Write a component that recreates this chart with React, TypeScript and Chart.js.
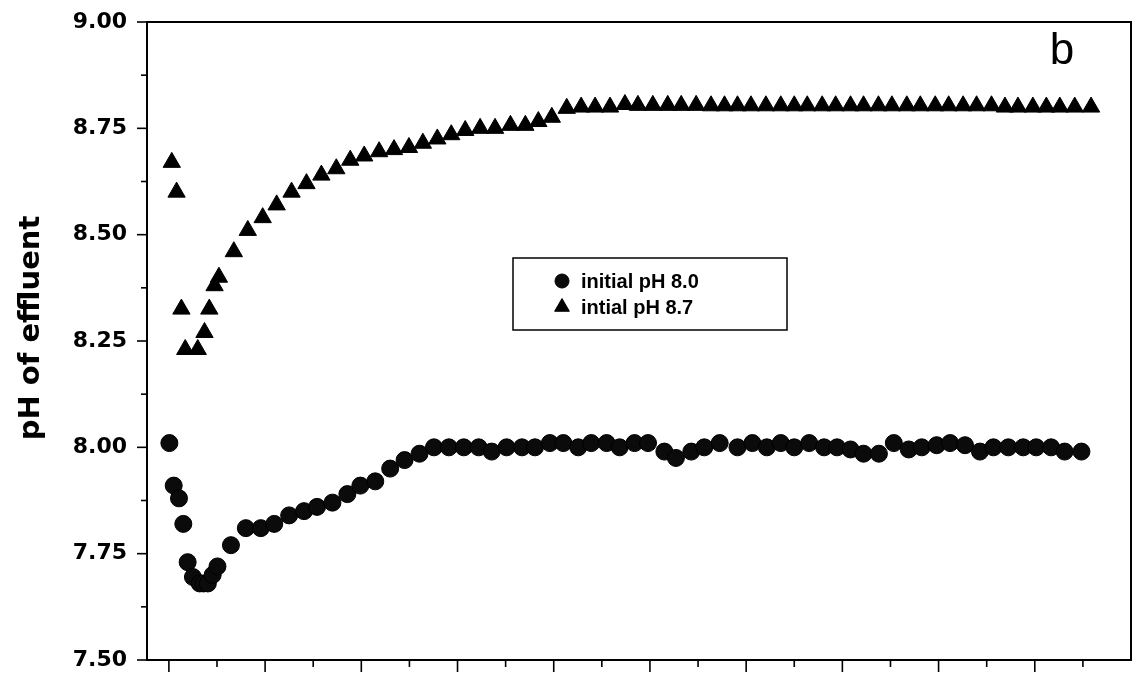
import React, { useEffect, useRef } from 'react';
import { Chart, registerables } from 'chart.js';
import { drawPoint } from 'chart.js/helpers';

Chart.register(...registerables);

// Elapsed time (axis units, one minor tick = 1) and effluent pH for each run
const run80Time = [
  0.01, 0.1, 0.21, 0.3, 0.39, 0.5, 0.64, 0.72, 0.81, 0.91, 1.01, 1.29, 1.6, 1.91, 2.19,
  2.5, 2.81, 3.08, 3.4, 3.71, 3.98, 4.29, 4.6, 4.9, 5.21, 5.51, 5.82, 6.13, 6.44, 6.71,
  7.02, 7.34, 7.61, 7.92, 8.2, 8.51, 8.78, 9.1, 9.37, 9.68, 9.96, 10.3, 10.54, 10.86,
  11.13, 11.45, 11.82, 12.13, 12.43, 12.72, 13.0, 13.31, 13.62, 13.89, 14.17, 14.44,
  14.76, 15.07, 15.38, 15.65, 15.96, 16.24, 16.55, 16.86, 17.14, 17.45, 17.76, 18.03,
  18.34, 18.62, 18.97,
];
const run80Ph = [
  8.01, 7.91, 7.88, 7.82, 7.73, 7.695, 7.68, 7.68, 7.68, 7.7, 7.72, 7.77, 7.81, 7.81, 7.82,
  7.84, 7.85, 7.86, 7.87, 7.89, 7.91, 7.92, 7.95, 7.97, 7.985, 8.0, 8.0, 8.0, 8.0, 7.99,
  8.0, 8.0, 8.0, 8.01, 8.01, 8.0, 8.01, 8.01, 8.0, 8.01, 8.01, 7.99, 7.975, 7.99,
  8.0, 8.01, 8.0, 8.01, 8.0, 8.01, 8.0, 8.01, 8.0, 8.0, 7.995, 7.985,
  7.985, 8.01, 7.995, 8.0, 8.005, 8.01, 8.005, 7.99, 8.0, 8.0, 8.0, 8.0,
  8.0, 7.99, 7.99,
];

const run87Time = [
  0.06, 0.16, 0.26, 0.34, 0.6, 0.74, 0.84, 0.95, 1.04, 1.35, 1.64, 1.95, 2.24, 2.55,
  2.86, 3.17, 3.48, 3.77, 4.06, 4.37, 4.68, 4.99, 5.28, 5.58, 5.87, 6.16, 6.47, 6.78,
  7.1, 7.41, 7.68, 7.96, 8.27, 8.57, 8.86, 9.17, 9.48, 9.75, 10.06, 10.37, 10.65, 10.96,
  11.27, 11.55, 11.82, 12.1, 12.41, 12.72, 13.0, 13.27, 13.58, 13.86, 14.17, 14.44,
  14.75, 15.03, 15.34, 15.62, 15.93, 16.21, 16.51, 16.79, 17.1, 17.38, 17.65, 17.96,
  18.24, 18.52, 18.83, 19.17,
];
const run87Ph = [
  8.67, 8.6, 8.325, 8.23, 8.23, 8.27, 8.325, 8.38, 8.4, 8.46, 8.51, 8.54, 8.57, 8.6,
  8.62, 8.64, 8.655, 8.675, 8.685, 8.695, 8.7, 8.705, 8.715, 8.725, 8.735, 8.745, 8.75, 8.75,
  8.757, 8.757, 8.766, 8.776, 8.797, 8.8, 8.8, 8.8, 8.806, 8.804, 8.804, 8.804, 8.804, 8.804,
  8.803, 8.803, 8.803, 8.803, 8.803, 8.803, 8.803, 8.803, 8.803, 8.803, 8.803, 8.803,
  8.803, 8.803, 8.803, 8.803, 8.803, 8.803, 8.803, 8.803, 8.803, 8.8, 8.8, 8.8,
  8.8, 8.8, 8.8, 8.8,
];

const seriesLabels = ['initial pH 8.0', 'intial pH 8.7'];
const yTickValues = [7.5, 7.75, 8.0, 8.25, 8.5, 8.75, 9.0];
const yMinorTickValues = [7.625, 7.875, 8.125, 8.375, 8.625, 8.875];
const xTickValues = [0, 2, 4, 6, 8, 10, 12, 14, 16, 18];
const xMinorTickValues = [1, 3, 5, 7, 9, 11, 13, 15, 17, 19];
const xMin = -0.455;
const xMax = 20;
const yMin = 7.5;
const yMax = 9.0;
const yTitle = 'pH of effluent';
const panelLetter = 'b';

const SANS = '"Liberation Sans", Arial, Helvetica, sans-serif';
const WIDE = '"DejaVu Sans", Verdana, sans-serif';

const framePlugin = {
  id: 'frameAndLegend',
  afterDraw(chart: any) {
    const { ctx, chartArea: a, scales } = chart;
    const xs = scales.x;
    const ys = scales.y;
    ctx.save();
    ctx.strokeStyle = '#000';
    ctx.lineCap = 'butt';

    // plot frame
    ctx.lineWidth = 2;
    ctx.strokeRect(a.left, a.top, a.right - a.left, a.bottom - a.top);

    // outward tick marks
    ctx.lineWidth = 1.6;
    const tick = (x1: number, y1: number, x2: number, y2: number) => {
      ctx.beginPath();
      ctx.moveTo(x1, y1);
      ctx.lineTo(x2, y2);
      ctx.stroke();
    };
    yTickValues.forEach((v) => {
      const p = ys.getPixelForValue(v);
      tick(a.left - 10, p, a.left, p);
    });
    yMinorTickValues.forEach((v) => {
      const p = ys.getPixelForValue(v);
      tick(a.left - 6, p, a.left, p);
    });
    xTickValues.forEach((v) => {
      const p = xs.getPixelForValue(v);
      tick(p, a.bottom, p, a.bottom + 12);
    });
    xMinorTickValues.forEach((v) => {
      const p = xs.getPixelForValue(v);
      tick(p, a.bottom, p, a.bottom + 7);
    });

    // y-axis title
    ctx.save();
    ctx.translate(31, 328);
    ctx.rotate(-Math.PI / 2);
    ctx.fillStyle = '#000';
    ctx.font = `bold 29px ${WIDE}`;
    ctx.textAlign = 'center';
    ctx.textBaseline = 'middle';
    ctx.fillText(yTitle, 0, 0);
    ctx.restore();

    // legend box
    const lx = 513;
    const ly = 258;
    const lw = 274;
    const lh = 72;
    ctx.lineWidth = 1.5;
    ctx.strokeRect(lx, ly, lw, lh);
    const rows = [281, 307];
    chart.data.datasets.forEach((ds: any, i: number) => {
      const cy = rows[i];
      ctx.fillStyle = ds.backgroundColor;
      ctx.strokeStyle = ds.borderColor;
      ctx.lineWidth = 1;
      drawPoint(ctx, {
        pointStyle: ds.pointStyle,
        radius: ds.pointStyle === 'triangle' ? 8.5 : 7,
        rotation: 0,
        borderWidth: 1,
      }, 562, cy);
      ctx.fillStyle = '#000';
      ctx.font = `bold 20px ${SANS}`;
      ctx.textAlign = 'left';
      ctx.textBaseline = 'middle';
      ctx.fillText(ds.label, 581, cy + 1);
    });

    // panel letter
    ctx.fillStyle = '#000';
    ctx.font = `44px ${SANS}`;
    ctx.textAlign = 'center';
    ctx.textBaseline = 'middle';
    ctx.fillText(panelLetter, 1062, 52);
    ctx.restore();
  },
};

export default function App() {
  const canvasRef = useRef<HTMLCanvasElement | null>(null);

  useEffect(() => {
    const canvas = canvasRef.current;
    if (!canvas) return;
    const chart = new Chart(canvas, {
      type: 'scatter',
      data: {
        datasets: [
          {
            label: seriesLabels[0],
            data: run80Time.map((t, i) => ({ x: t, y: run80Ph[i] })),
            pointStyle: 'circle',
            pointRadius: 8.5,
            backgroundColor: '#0b0b0b',
            borderColor: '#000',
            borderWidth: 1,
          },
          {
            label: seriesLabels[1],
            data: run87Time.map((t, i) => ({ x: t, y: run87Ph[i] })),
            pointStyle: 'triangle',
            pointRadius: 10,
            backgroundColor: '#000',
            borderColor: '#000',
            borderWidth: 1,
          },
        ],
      },
      options: {
        responsive: false,
        animation: false,
        devicePixelRatio: 1,
        events: [],
        layout: { padding: { left: 0, top: 22, right: 7, bottom: 25 } },
        plugins: {
          legend: { display: false },
          tooltip: { enabled: false },
        },
        scales: {
          x: {
            type: 'linear',
            min: xMin,
            max: xMax,
            ticks: { display: false },
            grid: { display: false, drawTicks: false },
            border: { display: false },
            afterFit: (s: any) => {
              s.height = 0;
              s.paddingLeft = 0;
              s.paddingRight = 0;
            },
          },
          y: {
            type: 'linear',
            min: yMin,
            max: yMax,
            afterBuildTicks: (s: any) => {
              s.ticks = yTickValues.map((v) => ({ value: v }));
            },
            ticks: {
              callback: (v: any) => Number(v).toFixed(2),
              color: '#000',
              padding: 20,
              font: { family: WIDE, size: 22, weight: 'bold' },
            },
            grid: { display: false, drawTicks: false },
            border: { display: false },
            title: { display: false },
            afterFit: (s: any) => {
              s.width = 147;
              s.paddingTop = 0;
              s.paddingBottom = 0;
            },
          },
        },
      },
      plugins: [framePlugin],
    });
    return () => chart.destroy();
  }, []);

  return (
    <div
      style={{
        position: 'absolute',
        left: 0,
        top: 0,
        width: 1142,
        height: 685,
        background: '#fff',
      }}
    >
      <canvas ref={canvasRef} width={1142} height={685} />
    </div>
  );
}
